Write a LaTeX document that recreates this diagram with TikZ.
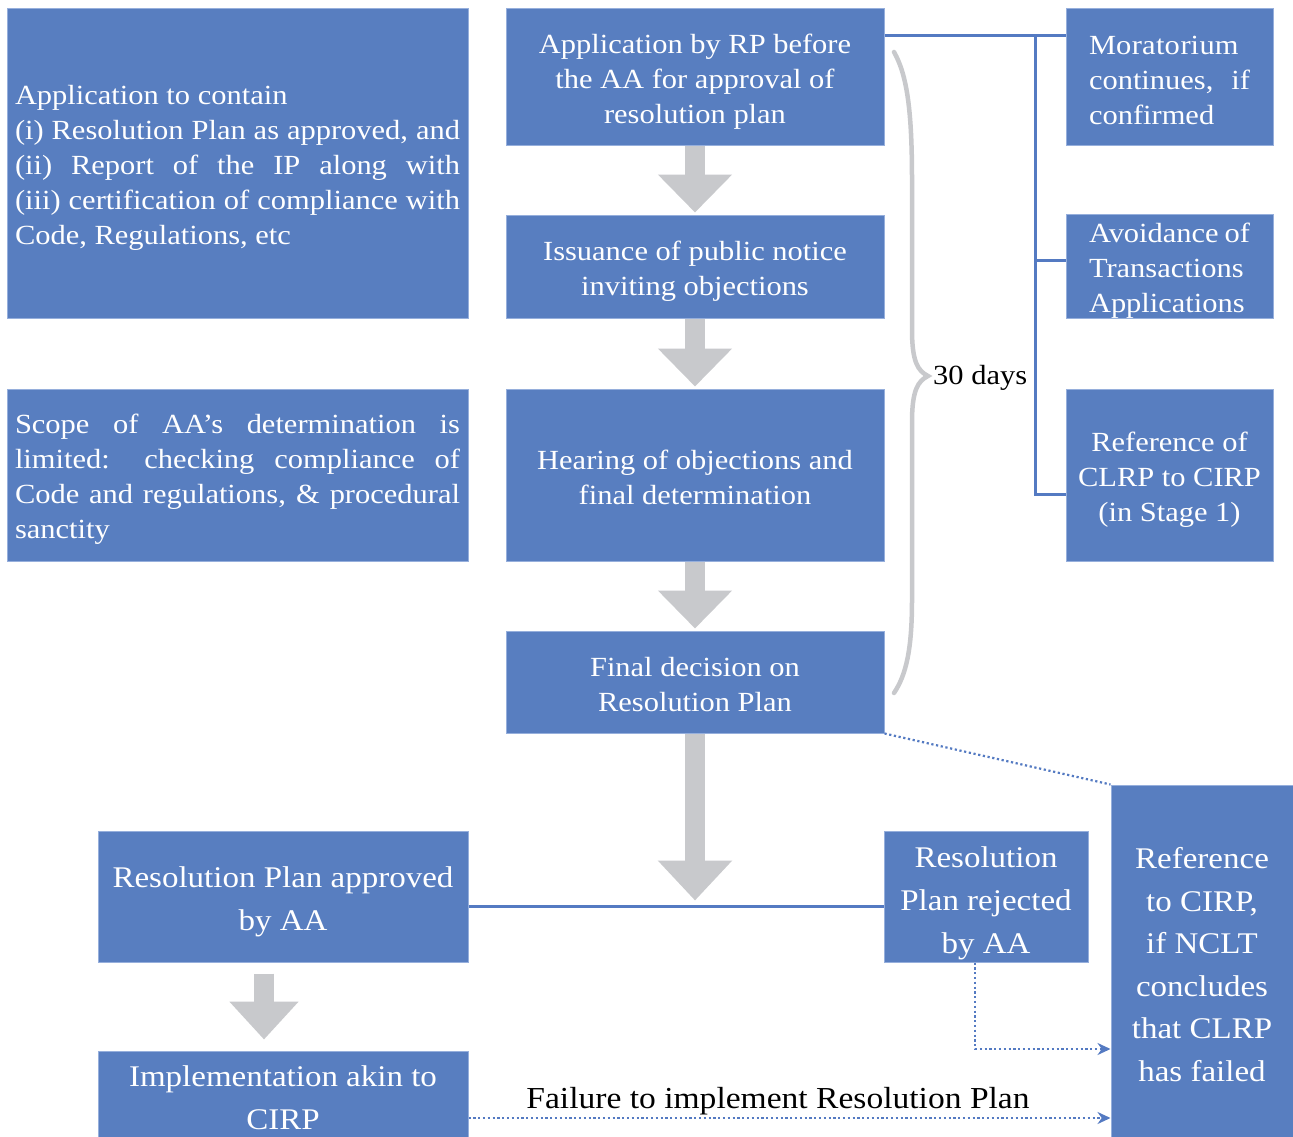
\documentclass[tikz,border=0pt]{standalone}
\usepackage{fontspec}
\setmainfont{Liberation Serif}[FakeStretch=1.1]
\usetikzlibrary{arrows.meta,calc}
\definecolor{boxblue}{RGB}{88,126,192}
\definecolor{boxrim}{RGB}{150,175,220}
\definecolor{linkblue}{RGB}{84,122,194}
\definecolor{blockgray}{RGB}{200,201,204}
% invisible strut that makes the first line taller, lowering the text block
\newcommand\topstrut[1]{\rule{0pt}{#1}}
\tikzset{
  box/.style={fill=boxblue, draw=boxrim, line width=1pt, inner sep=0pt, text=white, align=center},
  smalltext/.style={font=\fontsize{27.7}{35}\selectfont},
  largetext/.style={font=\fontsize{30}{42.6}\selectfont},
  link/.style={draw=linkblue, line width=3pt},
  dotlink/.style={draw=linkblue, line width=2.2pt, dash pattern=on 2.2pt off 2.6pt},
  dottip/.style={-{Stealth[length=13pt,width=12pt]}},
  blockarrow/.style={draw=blockgray, line width=20pt, -{Triangle[length=38pt,width=72pt]}},
}
\begin{document}
\begin{tikzpicture}[x=1pt,y=-1pt]
\clip (0,0) rectangle (1293,1137);
\fill[white] (0,0) rectangle (1293,1137);

% left column notes
\node[box, smalltext, minimum width=461pt, minimum height=309pt, text width=445pt, align=justify] (l1) at (237.5,163.5)
  {\topstrut{27.4pt}Application to contain\\ (i) Resolution Plan as approved, and\linebreak (ii) Report of the IP along with\linebreak (iii) certification of compliance with\linebreak Code, Regulations, etc};
\node[box, smalltext, minimum width=461pt, minimum height=172pt, text width=445pt, align=justify] (l2) at (237.5,475)
  {\topstrut{27.4pt}Scope of AA’s determination is\linebreak limited: checking compliance of\linebreak Code and regulations, \& procedural\linebreak sanctity};

% main column
\node[box, smalltext, minimum width=378pt, minimum height=137pt] (c1) at (695,77.5)
  {\topstrut{27.4pt}Application by RP before\\the AA for approval of\\resolution plan};
\node[box, smalltext, minimum width=378pt, minimum height=103pt] (c2) at (695,266.5)
  {\topstrut{29.4pt}Issuance of public notice\\inviting objections};
\node[box, smalltext, minimum width=378pt, minimum height=172pt] (c3) at (695,475)
  {\topstrut{24.4pt}Hearing of objections and\\final determination};
\node[box, smalltext, minimum width=378pt, minimum height=102pt] (c4) at (695,682)
  {\topstrut{23.4pt}Final decision on\\Resolution Plan};

% right column
\node[box, smalltext, minimum width=207pt, minimum height=137pt, text width=161pt, align=justify] (r1) at (1169.5,77.5)
  {\topstrut{25pt}Mo\kern0.6pt ra\kern0.6pt to\kern0.6pt ri\kern0.6pt um\linebreak continues,\ \ if\linebreak confirmed};
\node[box, smalltext, minimum width=207pt, minimum height=103pt, text width=161pt, align=justify] (r2) at (1169.5,266.5)
  {\topstrut{27.4pt}Avoidance of\linebreak Transactions\linebreak Applications};
\node[box, smalltext, minimum width=207pt, minimum height=172pt] (r3) at (1169.5,475)
  {\topstrut{29.4pt}Reference of\\CLRP to CIRP\\(in Stage 1)};

% outcomes
\node[box, largetext, minimum width=370pt, minimum height=131pt] (ap) at (283,896.5)
  {\topstrut{31pt}Resolution Plan approved\\by AA};
\node[box, largetext, minimum width=370pt, minimum height=94pt] (im) at (283,1098)
  {Implementation akin to\\CIRP};
\node[box, largetext, minimum width=204pt, minimum height=131pt] (rj) at (986,896.5)
  {\topstrut{34.5pt}Resolution\\Plan rejected\\by AA};
\node[box, largetext, minimum width=182pt, minimum height=359pt] (ref) at (1202,964.5)
  {Reference\\to CIRP,\\if NCLT\\concludes\\that CLRP\\has failed};

% flow arrows
\draw[blockarrow, shorten >=2pt] (c1.south) -- (c2.north);
\draw[blockarrow, shorten >=2pt] (c2.south) -- (c3.north);
\draw[blockarrow, shorten >=2pt] (c3.south) -- (c4.north);
\draw[blockarrow, -{Triangle[length=40pt,width=72pt]}] (c4.south) -- ++(0,167);
\draw[blockarrow, -{Triangle[length=38pt,width=67pt]}, shorten <=11pt, shorten >=11pt]
  ([xshift=-19pt]ap.south) -- ([xshift=-19pt]im.north);

% consequences of the application
\coordinate (bus) at (1035,36);
\draw[link] (c1.east |- bus) -- (r1.west |- bus);
\draw[link] (bus) |- ([yshift=6.5pt]r2.west);
\draw[link] (bus) |- ([yshift=-19pt]r3.west);
\draw[link] ([yshift=-9.5pt]ap.east) -- ([yshift=-9.5pt]rj.west);

% references back to CIRP
\draw[dotlink] (c4.south east) -- (ref.north west);
\draw[dotlink, dottip] ([xshift=-11pt]rj.south) |- (ref.west |- 0,1049);
\draw[dotlink, dottip] ([yshift=-20pt]im.east) -- (ref.west |- 0,1118);
\node[font=\fontsize{30.5}{36}\selectfont, inner sep=0pt] (fail) at (778,1101) {Failure to implement Resolution Plan};

% thirty-day brace
\draw[blockgray, line width=4.5pt, line cap=round]
  (894,52) .. controls (907,75) and (912,110) .. (912,180) -- (912,330)
  .. controls (912,362) and (918,371) .. (928,376)
  .. controls (918,381) and (912,390) .. (912,422) -- (912,600)
  .. controls (912,650) and (906,675) .. (894,693);
\node[smalltext, anchor=west, inner sep=0pt] (days) at (933,378) {30 days};
\end{tikzpicture}
\end{document}
